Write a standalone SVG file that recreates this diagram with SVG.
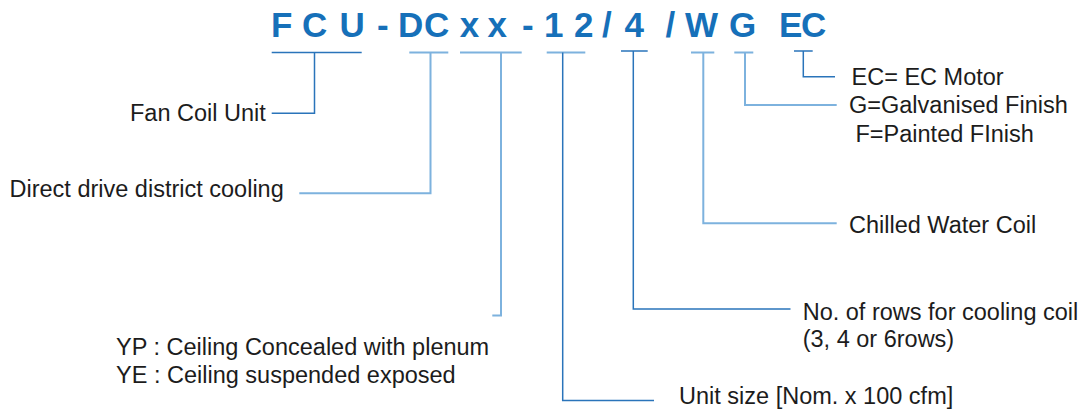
<svg xmlns="http://www.w3.org/2000/svg" width="1089" height="409" viewBox="0 0 1089 409">
<style>
.code{font-family:"Liberation Sans",Arial,sans-serif;font-weight:bold;font-size:35px;fill:#1670B9}
.lbl{font-family:"Liberation Sans",Arial,sans-serif;font-size:23.5px;fill:#1c1c1c}
.dk{fill:none;stroke:#2A74BA;stroke-width:1.5}
.lt{fill:none;stroke:#7DB2DE;stroke-width:2}
</style>
<rect width="1089" height="409" fill="#ffffff"/>
<g id="code">
<text class="code" x="271 302 339.5 377 398 424 459.7 487.5 522 544 574 602 624.5 665.5 685 729 779 801" y="37.3">FCU-DCxx-12/4/WGEC</text>
</g>
<g id="connectors">
<path class="dk" d="M271.7 52.5H361.7M314.5 52.5V113.3H271.7"/>
<path class="lt" d="M409.3 52.5H448.3M430.5 52.5V193.3H299.3"/>
<path class="lt" d="M460 52.5H521.7M501 52.5V315.5H492.3"/>
<path class="lt" d="M546.7 52.5H585.3"/>
<path class="dk" d="M562.7 52.5V400.5H654"/>
<path class="dk" d="M621 51H647.7M633.3 51V309H790.5"/>
<path class="lt" d="M691 52.5H714.3M703.3 52.5V223.3H836.7"/>
<path class="lt" d="M734.3 52.5H753.3M745 52.5V105H836.7"/>
<path class="dk" d="M794 51H812.7M803.3 51V76.7H835"/>
</g>
<g id="fan-coil-unit"><text class="lbl" x="130" y="121">Fan Coil Unit</text></g>
<g id="direct-drive"><text class="lbl" x="9.5" y="196.5">Direct drive district cooling</text></g>
<g id="unit-type">
<text class="lbl" x="116" y="355">YP : Ceiling Concealed with plenum</text>
<text class="lbl" x="116" y="382.7">YE : Ceiling suspended exposed</text>
</g>
<g id="unit-size"><text class="lbl" x="679" y="403.5">Unit size [Nom. x 100 cfm]</text></g>
<g id="rows">
<text class="lbl" x="802.7" y="319.5">No. of rows for cooling coil</text>
<text class="lbl" x="802.7" y="346.5">(3, 4 or 6rows)</text>
</g>
<g id="chilled-water"><text class="lbl" x="849" y="233.3">Chilled Water Coil</text></g>
<g id="finish">
<text class="lbl" x="849" y="113.3">G=Galvanised Finish</text>
<text class="lbl" x="855.5" y="141.7">F=Painted FInish</text>
</g>
<g id="motor"><text class="lbl" x="851.5" y="85">EC= EC Motor</text></g>
</svg>
